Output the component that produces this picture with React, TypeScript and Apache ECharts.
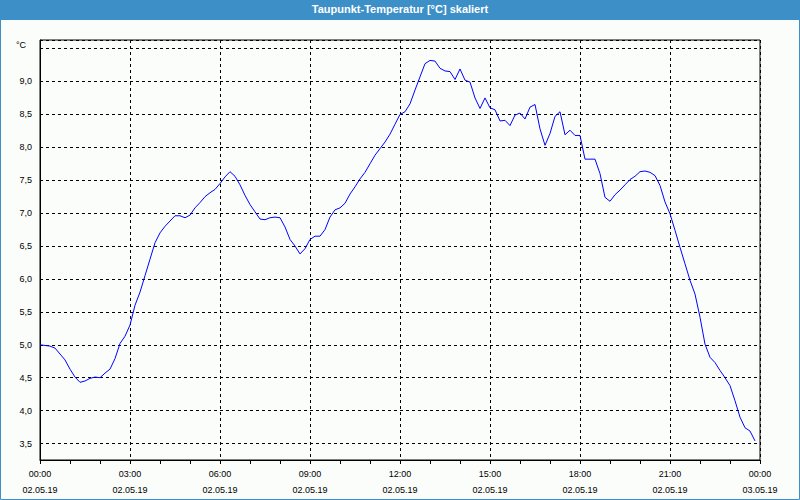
import React, { useEffect, useRef } from 'react';
import * as echarts from 'echarts';

const TITLE = 'Taupunkt-Temperatur [°C] skaliert';
const UNIT = '°C';
const START_DATE = '02.05.19';
const END_DATE = '03.05.19';

// minutes since 00:00 on 02.05.19
const minutes = [
  0, 10, 20, 30, 40, 50, 60, 70, 80, 90, 100, 110, 120, 130, 140, 150, 160, 170, 180, 190,
  200, 210, 220, 230, 240, 250, 260, 270, 280, 290, 300, 310, 320, 330, 340, 350, 360, 370, 380, 390,
  400, 410, 420, 430, 440, 450, 460, 470, 480, 490, 500, 510, 520, 530, 540, 550, 560, 570, 580, 590,
  600, 610, 620, 630, 640, 650, 660, 670, 680, 690, 700, 710, 720, 730, 740, 750, 760, 770, 780, 790,
  800, 810, 820, 830, 840, 850, 860, 870, 880, 890, 900, 910, 920, 930, 940, 950, 960, 970, 980, 990,
  1000, 1010, 1020, 1030, 1040, 1050, 1060, 1070, 1080, 1090, 1100, 1110, 1120, 1130, 1140, 1150, 1160, 1170, 1180, 1190,
  1200, 1210, 1220, 1230, 1240, 1250, 1260, 1270, 1280, 1290, 1300, 1310, 1320, 1330, 1340, 1350, 1360, 1370, 1380, 1390,
  1400, 1410, 1420, 1430,
];

// dew point temperature, °C
const dewPoint = [
  5.0, 4.99, 4.98, 4.95, 4.86, 4.77, 4.63, 4.51, 4.43, 4.45, 4.49, 4.51, 4.5, 4.57, 4.63, 4.79, 5.02, 5.13, 5.3, 5.6,
  5.8, 6.05, 6.3, 6.55, 6.7, 6.8, 6.88, 6.96, 6.96, 6.93, 6.97, 7.08, 7.16, 7.25, 7.31, 7.36, 7.45, 7.55, 7.63, 7.56,
  7.43, 7.27, 7.13, 7.02, 6.91, 6.9, 6.93, 6.94, 6.93, 6.79, 6.6, 6.5, 6.38, 6.46, 6.6, 6.65, 6.65, 6.75, 6.94, 7.05,
  7.08, 7.15, 7.29, 7.4, 7.52, 7.62, 7.75, 7.88, 7.98, 8.08, 8.2, 8.35, 8.5, 8.54, 8.66, 8.87, 9.07, 9.27, 9.32, 9.31,
  9.2, 9.16, 9.15, 9.03, 9.19, 9.02, 8.99, 8.75, 8.59, 8.75, 8.6, 8.57, 8.4, 8.41, 8.33, 8.49, 8.52, 8.43, 8.61, 8.65,
  8.28, 8.03, 8.21, 8.47, 8.54, 8.19, 8.26, 8.18, 8.18, 7.82, 7.82, 7.82, 7.6, 7.24, 7.18, 7.28, 7.35, 7.43, 7.51, 7.56,
  7.63, 7.64, 7.62, 7.57, 7.42, 7.17, 6.99, 6.74, 6.48, 6.23, 5.98, 5.77, 5.42, 5.01, 4.81, 4.73, 4.61, 4.5, 4.38, 4.15,
  3.9, 3.74, 3.69, 3.54,
];

const Y_MIN = 3.25;
const Y_MAX = 9.63;
const FONT = "'Liberation Sans', Arial, sans-serif";

export default function App() {
  const ref = useRef<HTMLDivElement>(null);

  useEffect(() => {
    const chart = echarts.init(ref.current!, null, { renderer: 'svg' });
    const pad = (n: number) => (n < 10 ? '0' + n : '' + n);
    chart.setOption({
      animation: false,
      backgroundColor: '#fbfdfb',
      title: {
        text: TITLE,
        left: 'center',
        top: 3,
        padding: 0,
        textStyle: { color: '#ffffff', fontSize: 11, fontWeight: 'bold', fontFamily: FONT },
      },
      graphic: [
        {
          type: 'rect',
          z: 0,
          shape: { x: 0, y: 0, width: 800, height: 20 },
          style: { fill: '#3d8fc7' },
        },
        {
          type: 'rect',
          z: 0,
          shape: { x: 0.5, y: 0.5, width: 799, height: 499 },
          style: { fill: 'none', stroke: '#3d8fc7', lineWidth: 1 },
        },
        {
          type: 'text',
          z: 10,
          style: {
            text: UNIT,
            x: 26,
            y: 45,
            align: 'right',
            verticalAlign: 'middle',
            fill: '#000',
            font: `9px ${FONT}`,
          },
        },
      ],
      grid: {
        left: 40,
        right: 40,
        top: 40,
        bottom: 40,
        show: true,
        borderColor: '#000',
        borderWidth: 1,
        backgroundColor: 'transparent',
      },
      xAxis: {
        type: 'value',
        min: 0,
        max: 1440,
        interval: 180,
        axisLine: { show: true, lineStyle: { color: '#000', width: 1 } },
        axisTick: { show: true, length: 4, lineStyle: { color: '#000' } },
        minorTick: { show: true, splitNumber: 3, length: 4, lineStyle: { color: '#000' } },
        splitLine: { show: true, lineStyle: { color: '#000', type: [3, 3], width: 1 } },
        axisLabel: {
          margin: 6,
          color: '#000',
          fontSize: 9,
          fontFamily: FONT,
          lineHeight: 16,
          formatter: (v: number) => {
            const day = v >= 1440 ? END_DATE : START_DATE;
            const m = v % 1440;
            return `${pad(Math.floor(m / 60))}:${pad(m % 60)}\n${day}`;
          },
        },
      },
      yAxis: {
        type: 'value',
        min: Y_MIN,
        max: Y_MAX,
        splitNumber: 13,
        minInterval: 0.5,
        maxInterval: 0.5,
        axisLine: { show: true, lineStyle: { color: '#000', width: 1 } },
        axisTick: { show: false },
        splitLine: { show: true, lineStyle: { color: '#000', type: [3, 3], width: 1 } },
        axisLabel: {
          margin: 8,
          color: '#000',
          fontSize: 9,
          fontFamily: FONT,
          showMinLabel: false,
          showMaxLabel: false,
          formatter: (v: number) => {
            if (Math.abs(v * 2 - Math.round(v * 2)) > 1e-6 || v > 9.25) return '';
            return v.toFixed(1).replace('.', ',');
          },
        },
      },
      series: [
        {
          type: 'line',
          data: minutes.map((m, i) => [m, dewPoint[i]]),
          symbol: 'none',
          showSymbol: false,
          lineStyle: { color: '#0000ff', width: 1 },
          itemStyle: { color: '#0000ff' },
          silent: true,
          z: 5,
        },
      ],
    });
    return () => chart.dispose();
  }, []);

  return (
    <div
      ref={ref}
      style={{ position: 'fixed', left: 0, top: 0, width: 800, height: 500, background: '#fbfdfb' }}
    />
  );
}
